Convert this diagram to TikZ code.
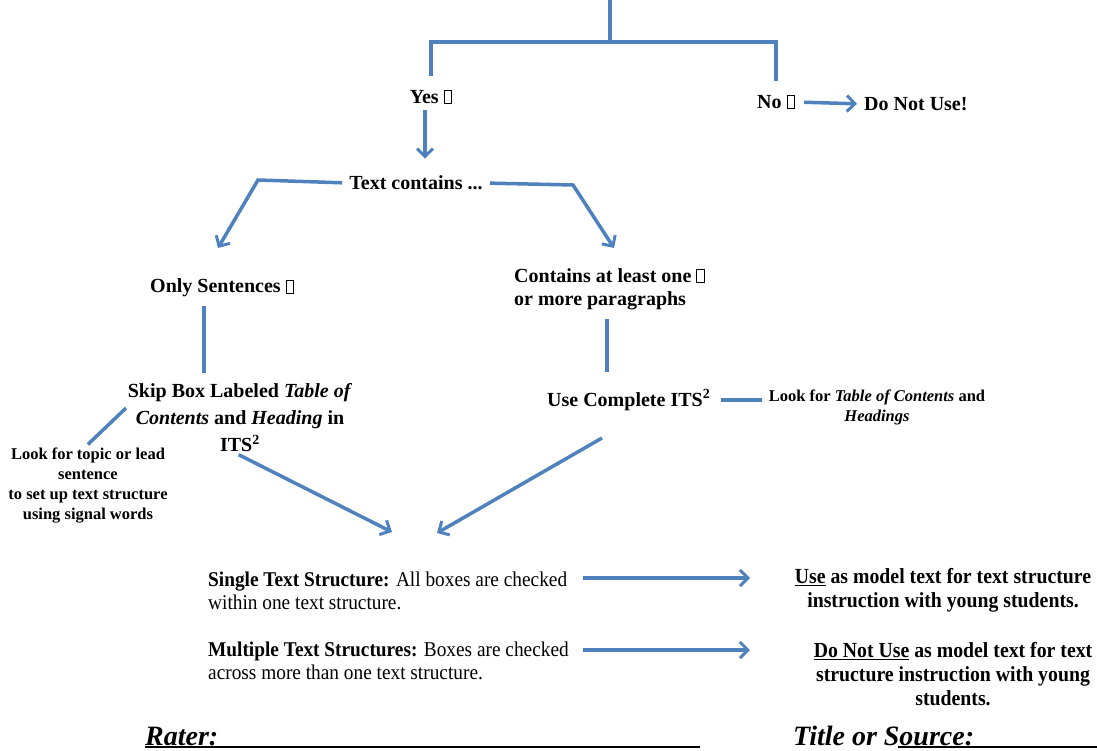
\documentclass[tikz,border=0pt]{standalone}
\usepackage{fontspec}
\setmainfont{Liberation Serif}
\newfontfamily\condfont[FakeStretch=0.92]{Liberation Serif}
\usetikzlibrary{arrows.meta}
\definecolor{lb}{HTML}{4F81BD}
\newcommand{\cb}{\kern5pt{\fboxsep=0pt\fboxrule=0.7pt\fbox{\rule{7pt}{0pt}\rule{0pt}{12.5pt}}}}
\begin{document}
\begin{tikzpicture}[x=1pt,y=-1pt,
  line/.style={draw=lb,line width=3.5pt},
  arr/.style={line,-{Straight Barb[length=8pt,width=16pt,line width=3pt]}},
  big/.style={font=\bfseries\fontsize{20}{23}\selectfont,inner sep=1pt},
  small/.style={font=\bfseries\fontsize{16.5}{20}\selectfont,align=center,inner sep=1pt},
  cond/.style={font=\condfont\fontsize{21}{23}\selectfont,align=left,anchor=west,inner sep=1pt},
  condb/.style={font=\condfont\bfseries\fontsize{21.5}{24}\selectfont,align=center,inner sep=1pt},
  foot/.style={anchor=base west,inner sep=0pt,font=\bfseries\itshape\fontsize{28}{28}\selectfont}]
\useasboundingbox (0,0) rectangle (1097,750);
% nodes
\node[big] (yes) at (431,97) {Yes\cb};
\node[big] (no) at (776,102) {No\cb};
\node[big,anchor=west] (dnu) at (863,104) {Do Not Use!};
\node[big] (tc) at (416,183) {Text contains ...};
\node[big,anchor=west] (os) at (149,288) {Only Sentences\cb};
\node[big,anchor=west,align=left] (cal) at (513,289) {Contains at least one\cb\\or more paragraphs};
\node[big,align=center,font=\bfseries\fontsize{20}{27}\selectfont] (skip) at (240,418) {Skip Box Labeled \textit{Table of}\\\textit{Contents} and \textit{Heading} in\\ITS\textsuperscript{2}};
\node[small] (lk1) at (88,486) {Look for topic or lead\\sentence\\to set up text structure\\using signal words};
\node[big,anchor=west] (uc) at (546,400) {Use Complete ITS\textsuperscript{2}};
\node[small] (lk2) at (877,407) {Look for \textit{Table of Contents} and\\\textit{Headings}};
\node[cond] (single) at (207,591) {\textbf{Single Text Structure:} All boxes are checked\\within one text structure.};
\node[cond] (multi) at (207,661) {\textbf{Multiple Text Structures:} Boxes are checked\\across more than one text structure.};
\node[condb] (use) at (943,590) {\underline{Use} as model text for text structure\\instruction with young students.};
\node[condb] (dnu2) at (953,674) {\underline{Do Not Use} as model text for text\\structure instruction with young\\students.};
\node[foot] (rater) at (145,745) {Rater:};
\node[foot] (title) at (793,745) {Title or Source:};
% underlines
\coordinate (rl) at (700,747);
\coordinate (tl) at (1097,747);
\coordinate (tl0) at (898,747);
\draw[line width=2.5pt] (rater.west |- rl) -- (rl);
\draw[line width=2.5pt] (tl0) -- (tl);
% connectors
\coordinate (top) at (610,0);
\coordinate (tj) at (610,42);
\draw[line] (top) -- (tj);
\draw[line,shorten <=13pt,shorten >=13pt] (yes.north) |- (tj) -| (no.north);
\draw[arr,shorten <=5pt,shorten >=16pt] (yes.south -| 425,0) -- (tc.north -| 425,0);
\draw[arr,shorten <=8pt,shorten >=6pt] (no.east) -- (dnu.west);
\draw[arr,shorten <=6pt] (tc.west) -- (258,180) -- (218,248) coordinate (oa);
\draw[arr,shorten <=6pt] (tc.east) -- (573,185) -- (614,248) coordinate (ca);
\draw[line,shorten <=8pt,shorten >=10pt] (os.south -| 204,0) -- (skip.north -| 204,0);
\draw[line,shorten <=8pt,shorten >=16pt] (cal.south -| 607,0) -- (uc.north -| 607,0);
\draw[line,shorten <=4pt] (lk1.north -| 85,0) -- (126,408) coordinate (sk1);
\draw[line,shorten <=10pt,shorten >=6pt] (uc.east) -- (lk2.west |- uc.east);
\draw[arr,shorten <=3pt] (skip.south -| 236,0) -- (392,532) coordinate (m1);
\draw[arr] (602,438) -- (437,533) coordinate (m2);
\draw[arr] (583,578) -- (750,578) coordinate (s1);
\draw[arr] (583,650) -- (750,650) coordinate (s2);
\end{tikzpicture}
\end{document}
